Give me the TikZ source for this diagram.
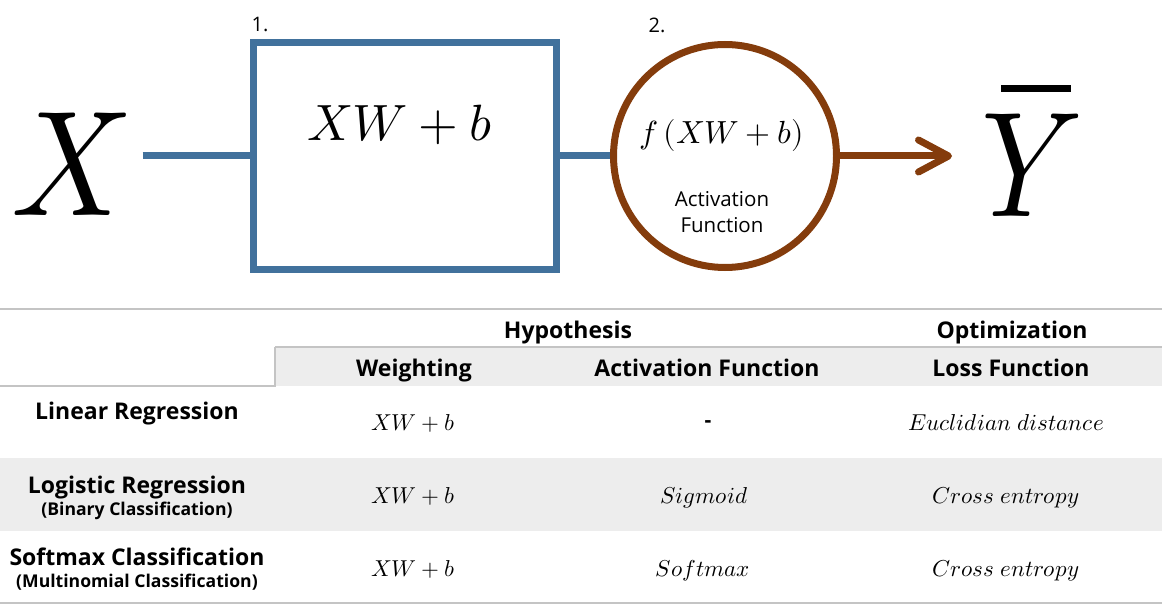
\documentclass[tikz,border=0pt]{standalone}
\usepackage{fontspec}
\usepackage{unicode-math}
\setmainfont{Open Sans}
\setmathfont{Latin Modern Math}
\usepackage{tikz}
\usetikzlibrary{positioning,arrows.meta}

\definecolor{boxblue}{RGB}{65,113,156}
\definecolor{actbrown}{RGB}{132,60,12}
\definecolor{tabgray}{RGB}{237,237,237}
\definecolor{linegray}{RGB}{196,196,196}

\tikzset{
  wbox/.style={draw=boxblue,line width=7pt,minimum width=303pt,minimum height=226pt,inner sep=0pt},
  actnode/.style={circle,draw=actbrown,line width=7pt,minimum size=223pt,inner sep=0pt},
  bigvar/.style={font=\fontsize{150}{150}\selectfont,inner sep=0pt},
  head/.style={anchor=base,font=\fontsize{23}{26}\selectfont\bfseries},
  rowsub/.style={anchor=base,font=\fontsize{17.6}{20}\selectfont\bfseries},
  cell/.style={anchor=base,font=\fontsize{23}{26}\selectfont},
  tabline/.style={draw=linegray,line width=2pt},
}

\begin{document}
\begin{tikzpicture}[x=1pt,y=-1pt]
\useasboundingbox (0,0) rectangle (1162,604);
% model
\node [bigvar,anchor=base] (xvar) at (71,216) {\scalebox{0.9}[1]{$X$}};
\node [wbox] (box) at (404.5,156) {};
\node [anchor=base,font=\fontsize{51}{56}\selectfont] (boxtxt) at (400,141) {$XW+b$};
\node [anchor=base,font=\fontsize{20}{24}\selectfont] (one) at (260,32) {1.};
\node [actnode] (act) at (725,156) {};
\node [anchor=base,font=\fontsize{32}{38}\selectfont] (acttxt) at (722,144) {$f\,(XW+b)$};
\node [anchor=base,font=\fontsize{20.5}{24}\selectfont] (actname) at (722,207) {Activation};
\node [anchor=base,font=\fontsize{20.5}{24}\selectfont] (actname2) at (722,233) {Function};
\node [anchor=base,font=\fontsize{20}{24}\selectfont] (two) at (657,33) {2.};
\node [bigvar,anchor=base west] (yhat) at (981,217)
  {\makebox[0pt][l]{\hspace{20pt}\rule[125pt]{70pt}{7pt}}\scalebox{0.85}[1]{$Y$}};
\draw [boxblue,line width=7pt] (xvar.east |- box.west) ++(12,0) -- (box.west);
\draw [boxblue,line width=7pt] (box.east) -- (act.west);
\draw [actbrown,line width=7pt,-{Straight Barb[length=30pt,width=32pt,round]}]
  (act.east) -- (act.east -| yhat.west) [shorten >=29pt];
% table
\fill [tabgray] (275,347) rectangle (1162,386);
\fill [tabgray] (0,458) rectangle (1162,531);
\draw [tabline] (0,309) -- (1162,309);
\draw [tabline] (275,347) -- (1162,347);
\draw [tabline] (275,347) -- (275,386) -- (0,386);
\draw [tabline] (0,603) -- (1162,603);
\node [head] (hyp) at (568,338) {Hypothesis};
\node [head] (opt) at (1012,338) {Optimization};
\node [head] (wgt) at (414,376) {Weighting};
\node [head] (actf) at (707,376) {Activation Function};
\node [head] (loss) at (1011,376) {Loss Function};
\node [head] (lin) at (137,419) {Linear Regression};
\node [head] (logi) at (137,493) {Logistic Regression};
\node [rowsub] (logisub) at (137,515) {(Binary Classification)};
\node [head] (soft) at (137,565) {Softmax Classification};
\node [rowsub] (softsub) at (137,587) {(Multinomial Classification)};
\node [cell] (w1) at (413,430) {$XW+b$};
\node [cell] (w2) at (413,503) {$XW+b$};
\node [cell] (w3) at (413,576) {$XW+b$};
\node [anchor=center,font=\fontsize{21}{24}\selectfont\bfseries] (a1) at (708,424) {-};
\node [cell] (a2) at (704,503) {$Sigmoid$};
\node [cell] (a3) at (703,576) {$Softmax$};
\node [cell] (l1) at (1006,430) {$Euclidian\ distance$};
\node [cell] (l2) at (1006,503) {$Cross\ entropy$};
\node [cell] (l3) at (1006,576) {$Cross\ entropy$};
\end{tikzpicture}
\end{document}
